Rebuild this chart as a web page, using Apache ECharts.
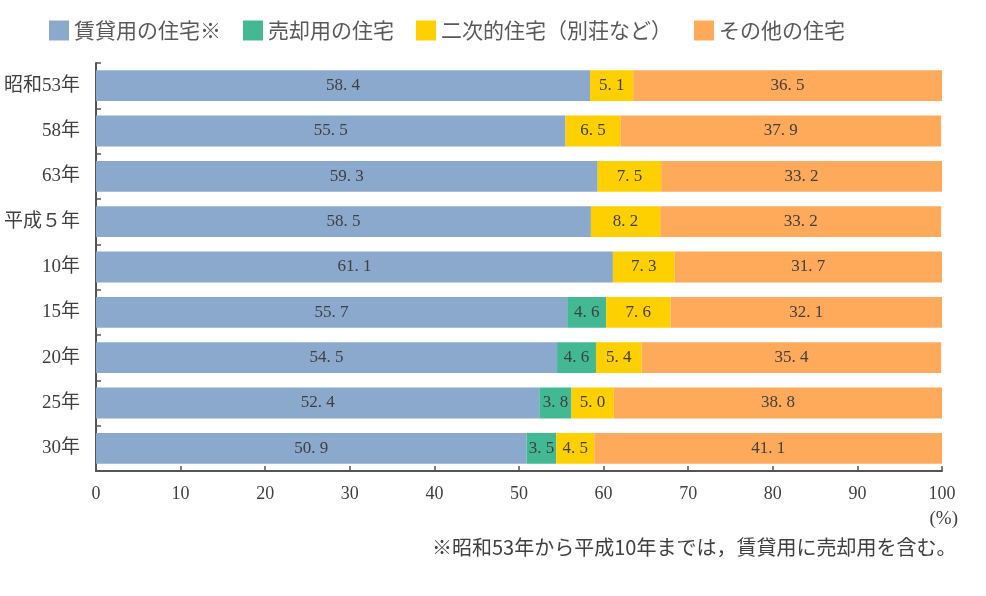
<!DOCTYPE html>
<html>
<head>
<meta charset="utf-8">
<script src="https://cdn.jsdelivr.net/npm/echarts@6/dist/echarts.min.js"></script>
<style>
  html, body { margin: 0; padding: 0; background: #fff; }
  #chart { width: 986px; height: 596px; }
</style>
</head>
<body>
<div id="chart"></div>
<script>
const categories = ['昭和53年', '58年', '63年', '平成５年', '10年', '15年', '20年', '25年', '30年'];
const rental = [58.4, 55.5, 59.3, 58.5, 61.1, 55.7, 54.5, 52.4, 50.9];
const forSale = [null, null, null, null, null, 4.6, 4.6, 3.8, 3.5];
const secondary = [5.1, 6.5, 7.5, 8.2, 7.3, 7.6, 5.4, 5.0, 4.5];
const others = [36.5, 37.9, 33.2, 33.2, 31.7, 32.1, 35.4, 38.8, 41.1];
const xTicks = [0, 10, 20, 30, 40, 50, 60, 70, 80, 90, 100];

const serif = '"Liberation Serif", "DejaVu Serif", "Noto Sans CJK JP", serif';
const sans = '"Noto Sans CJK JP", sans-serif';

function series(name, data, color) {
    return {
        name: name,
        type: 'bar',
        stack: 'total',
        data: data,
        barCategoryGap: '32%',
        itemStyle: { color: color },
        label: {
            show: true,
            position: 'inside',
            color: '#404040',
            fontFamily: serif,
            fontSize: 17,
            formatter: p => p.value == null ? '' : p.value.toFixed(1).replace('.', '. ')
        }
    };
}

let chart = echarts.init(document.getElementById('chart'));
chart.setOption({
    animation: false,
    legend: {
        left: 44,
        top: 15,
        icon: 'rect',
        itemWidth: 20,
        itemHeight: 20,
        itemGap: 22,
        textStyle: { fontFamily: sans, fontSize: 21, color: '#595959' }
    },
    grid: { left: 96, right: 44, top: 63, height: 408 },
    xAxis: {
        type: 'value',
        min: 0,
        max: 100,
        interval: 10,
        axisLine: { show: true, lineStyle: { color: '#555', width: 2 } },
        axisTick: { show: true, inside: true, length: 5, lineStyle: { color: '#555', width: 1.5 } },
        splitLine: { show: false },
        axisLabel: {
            margin: 14,
            color: '#404040',
            fontFamily: serif,
            fontSize: 18,
            formatter: v => xTicks.includes(v) ? String(v) : ''
        }
    },
    yAxis: {
        type: 'category',
        data: categories,
        inverse: true,
        axisLine: { show: true, lineStyle: { color: '#555', width: 2 } },
        axisTick: { show: true, inside: true, length: 5, lineStyle: { color: '#555', width: 1.5 } },
        axisLabel: { margin: 16, color: '#404040', fontFamily: serif, fontSize: 19 }
    },
    graphic: [
        {
            type: 'text', right: 28, top: 510,
            style: { text: '(%)', fontFamily: serif, fontSize: 19, fill: '#404040' }
        },
        {
            type: 'text', left: 432, top: 537,
            style: { text: '※昭和53年から平成10年までは，賃貸用に売却用を含む。', fontFamily: sans, fontSize: 20, fill: '#404040' }
        }
    ],
    series: [
        series('賃貸用の住宅※', rental, '#8BA8CD'),
        series('売却用の住宅', forSale, '#42B893'),
        series('二次的住宅（別荘など）', secondary, '#FFD000'),
        series('その他の住宅', others, '#FFAA5A')
    ]
});
</script>
</body>
</html>
